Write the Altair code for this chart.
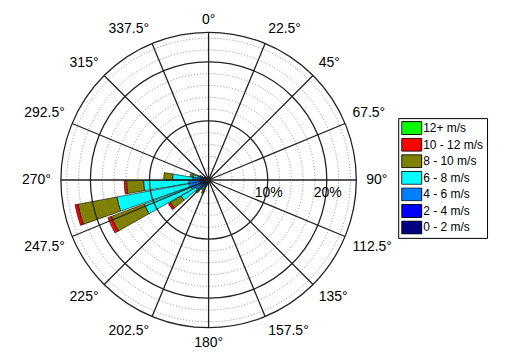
import math
import altair as alt
import pandas as pd

# ---------------- data ----------------
dir_centers = [5 + 10 * i for i in range(36)]  # 10-degree direction bins

speed_labels = ["12+ m/s", "10 - 12 m/s", "8 - 10 m/s", "6 - 8 m/s",
                "4 - 6 m/s", "2 - 4 m/s", "0 - 2 m/s"]
speed_colors = ["#00ff00", "#ff0000", "#808000", "#00ffff",
                "#0080ff", "#0000ff", "#000080"]

#            5   15   25   35   45   55   65   75   85   95
s_0_2 = [0.3, 0.3, 0.3, 0.3, 0.3, 0.3, 0.3, 0.3, 0.3, 0.3,
         0.3, 0.3, 0.3, 0.3, 0.3, 0.3, 0.3, 0.3, 0.4, 0.4,
         0.4, 0.4, 0.5, 0.5, 0.6, 0.6, 0.6, 0.5, 0.5, 0.4,
         0.3, 0.3, 0.3, 0.3, 0.3, 0.3]
s_2_4 = [0.1, 0.1, 0.1, 0.1, 0.1, 0.1, 0.1, 0.1, 0.1, 0.1,
         0.1, 0.1, 0.1, 0.1, 0.1, 0.1, 0.1, 0.1, 0.2, 0.3,
         0.5, 0.5, 0.6, 0.7, 0.8, 0.8, 0.8, 0.7, 0.6, 0.4,
         0.3, 0.2, 0.1, 0.1, 0.1, 0.1]
s_4_6 = [0, 0, 0, 0, 0, 0, 0, 0, 0, 0,
         0, 0, 0, 0, 0, 0, 0, 0, 0, 0.2,
         0.5, 0.4, 0.6, 1.3, 1.8, 2.0, 2.0, 1.5, 0.8, 0.4,
         0.2, 0, 0, 0, 0, 0]
s_6_8 = [0, 0, 0, 0, 0, 0, 0, 0, 0, 0,
         0, 0, 0, 0, 0, 0, 0, 0, 0, 0,
         0.6, 0.4, 0.7, 2.9, 8.4, 12.4, 7.6, 3.4, 0.8, 0.3,
         0, 0, 0, 0, 0, 0]
s_8_10 = [0, 0, 0, 0, 0, 0, 0, 0, 0, 0,
          0, 0, 0, 0, 0, 0, 0, 0, 0, 0,
          0.5, 0.3, 0.5, 2.1, 6.0, 6.7, 2.9, 1.5, 0.5, 0.1,
          0, 0, 0, 0, 0, 0]
s_10_12 = [0, 0, 0, 0, 0, 0, 0, 0, 0, 0,
           0, 0, 0, 0, 0, 0, 0, 0, 0, 0,
           0, 0, 0, 0.4, 0.6, 0.5, 0.4, 0, 0, 0,
           0, 0, 0, 0, 0, 0]
s_12p = [0] * 36

dir_ticks = [0, 22.5, 45, 67.5, 90, 112.5, 135, 157.5, 180,
             202.5, 225, 247.5, 270, 292.5, 315, 337.5]
dir_tick_labels = ["0°", "22.5°", "45°", "67.5°", "90°", "112.5°", "135°", "157.5°",
                   "180°", "202.5°", "225°", "247.5°", "270°", "292.5°", "315°", "337.5°"]
ring_dotted = [2, 4, 6, 8, 12, 14, 16, 18, 22, 24]
ring_solid = [10, 20, 25]
pct_ticks = [10, 20]
pct_labels = ["10%", "20%"]

# ---------------- layout constants ----------------
CX, CY = 201, 172
RMAX_PX = 148
HALF_W = 4.5
FONT = "Liberation Sans"
LABEL_R_SIDE = 158
LABEL_R_CORNER = 156
LABEL_R_POLE = 156

theta_scale = alt.Scale(domain=[0, 360], range=[0, 2 * math.pi])
r_scale = alt.Scale(type="linear", domain=[0, 25], range=[0, RMAX_PX], zero=True)

# ---------------- tables ----------------
series = [s_0_2, s_2_4, s_4_6, s_6_8, s_8_10, s_10_12, s_12p]
series_labels = list(reversed(speed_labels))
rows = []
for i, d in enumerate(dir_centers):
    base = 0.0
    for lab, vals in zip(series_labels, series):
        v = vals[i]
        if v > 0:
            rows.append({"dir": d, "t1": d - HALF_W, "t2": d + HALF_W,
                         "r1": base, "r2": base + v, "speed": lab})
        base += v
bars_df = pd.DataFrame(rows)

dotted_df = pd.DataFrame({"r": ring_dotted, "t1": 0, "t2": 360})
solid_df = pd.DataFrame({"r": ring_solid, "t1": 0, "t2": 360})
spoke_df = pd.DataFrame({"a": dir_ticks, "r0": 0, "r1": 25})
lab_df = pd.DataFrame({"a": dir_ticks, "txt": dir_tick_labels})
pct_df = pd.DataFrame({"r": pct_ticks, "txt": pct_labels, "a": 90})

# ---------------- layers ----------------
bars = alt.Chart(bars_df).mark_arc(stroke="black", strokeWidth=0.6).encode(
    x=alt.value(CX), y=alt.value(CY),
    theta=alt.Theta("t1:Q", scale=theta_scale, stack=None),
    theta2="t2:Q",
    radius=alt.Radius("r2:Q", scale=r_scale, stack=None),
    radius2="r1:Q",
    color=alt.Color("speed:N",
                    scale=alt.Scale(domain=speed_labels, range=speed_colors),
                    legend=alt.Legend(orient="none", legendX=391, legendY=110,
                                      title=None,
                                      labelExpr="datum.label + '   '")),
)

dotted = alt.Chart(dotted_df).mark_arc(filled=False, stroke="#8c8c8c",
                                       strokeWidth=1, strokeDash=[1, 2]).encode(
    x=alt.value(CX), y=alt.value(CY),
    theta=alt.Theta("t1:Q", scale=theta_scale, stack=None),
    theta2="t2:Q",
    radius=alt.Radius("r:Q", scale=r_scale, stack=None),
)

solid = alt.Chart(solid_df).mark_arc(filled=False, stroke="#222222",
                                     strokeWidth=1.3).encode(
    x=alt.value(CX), y=alt.value(CY),
    theta=alt.Theta("t1:Q", scale=theta_scale, stack=None),
    theta2="t2:Q",
    radius=alt.Radius("r:Q", scale=r_scale, stack=None),
)

spokes = alt.Chart(spoke_df).mark_arc(filled=False, stroke="#222222",
                                      strokeWidth=1.3).encode(
    x=alt.value(CX), y=alt.value(CY),
    theta=alt.Theta("a:Q", scale=theta_scale, stack=None),
    theta2="a:Q",
    radius=alt.Radius("r1:Q", scale=r_scale, stack=None),
    radius2="r0:Q",
)


def dir_layer(cond, align, baseline, radius):
    return alt.Chart(lab_df).transform_filter(cond).mark_text(
        radius=radius, font=FONT, fontSize=14, color="black",
        align=align, baseline=baseline).encode(
        x=alt.value(CX), y=alt.value(CY),
        theta=alt.Theta("a:Q", scale=theta_scale, stack=None),
        text="txt:N",
    )


dir_layers = [
    dir_layer("datum.a == 0", "center", "alphabetic", LABEL_R_POLE),
    dir_layer("datum.a == 180", "center", "top", LABEL_R_POLE),
    dir_layer("datum.a == 90", "left", "middle", LABEL_R_SIDE),
    dir_layer("datum.a == 270", "right", "middle", LABEL_R_SIDE),
    dir_layer("datum.a > 0 && datum.a < 90", "left", "bottom", LABEL_R_CORNER),
    dir_layer("datum.a > 90 && datum.a < 180", "left", "top", LABEL_R_CORNER),
    dir_layer("datum.a > 180 && datum.a < 270", "right", "top", LABEL_R_CORNER),
    dir_layer("datum.a > 270", "right", "bottom", LABEL_R_CORNER),
]

pct_text = alt.Chart(pct_df).mark_text(font=FONT, fontSize=14, color="black",
                                       align="center", baseline="middle",
                                       dy=13, dx=1).encode(
    x=alt.value(CX), y=alt.value(CY),
    theta=alt.Theta("a:Q", scale=theta_scale, stack=None),
    radius=alt.Radius("r:Q", scale=r_scale, stack=None),
    text="txt:N",
)

chart = alt.layer(bars, dotted, solid, spokes, *dir_layers, pct_text).properties(
    width=500, height=345, padding=0,
    autosize=alt.AutoSizeParams(type="none"),
).configure_view(stroke=None).configure_legend(
    strokeColor="black", fillColor="white", padding=3, cornerRadius=0,
    symbolType="M-1.43,-0.93L1.43,-0.93L1.43,0.93L-1.43,0.93Z", symbolSize=196,
    symbolStrokeColor="black", symbolStrokeWidth=1, symbolOpacity=1,
    symbolOffset=3, clipHeight=14,
    labelFont=FONT, labelFontSize=12, labelColor="black", labelOffset=4,
    rowPadding=2.6, labelLimit=200,
)

chart.save("out.html", embed_options={"renderer": "svg", "actions": False})
